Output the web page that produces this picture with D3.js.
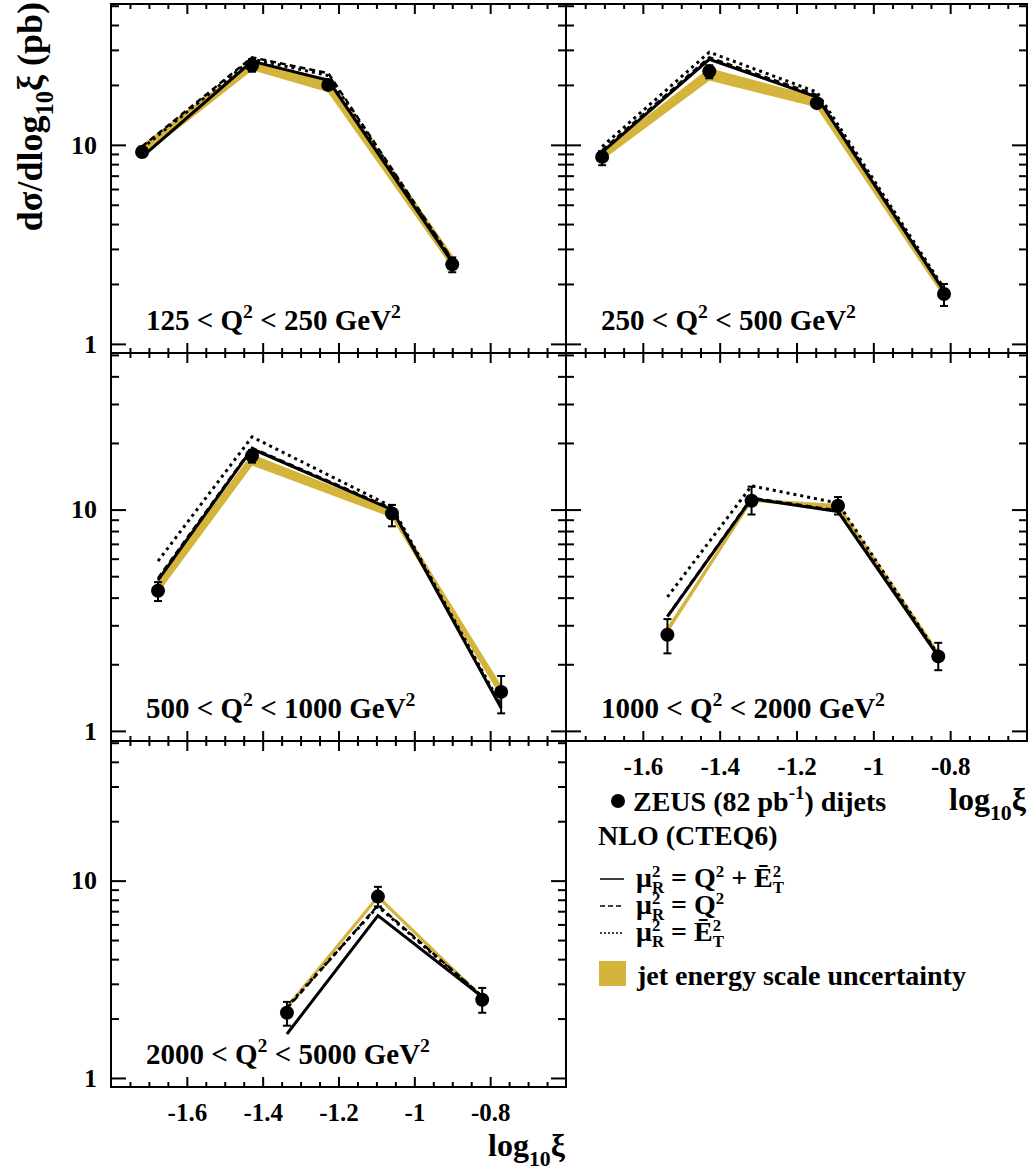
<!DOCTYPE html>
<html>
<head>
<meta charset="utf-8">
<script src="https://cdn.jsdelivr.net/npm/d3@7/dist/d3.min.js"></script>
<style>
  html, body { margin: 0; padding: 0; background: #fff; }
  svg text { font-family: 'Liberation Serif', 'Times New Roman', serif; font-weight: bold; fill: #000; }
</style>
</head>
<body>
<div id="chart"></div>
<script>
// Q2 bins, one panel each
const qLow = [125, 250, 500, 1000, 2000];
const qHigh = [250, 500, 1000, 2000, 5000];

// mean log10(xi) of each bin
const logXi = [
  [-1.718, -1.428, -1.227, -0.900],
  [-1.706, -1.427, -1.147, -0.816],
  [-1.676, -1.428, -1.059, -0.771],
  [-1.536, -1.317, -1.092, -0.831],
  [-1.336, -1.096, -0.821]
];

// ZEUS dijet cross sections (pb) with error-bar ends
const zeus = [
  [9.2, 25.1, 20.0, 2.51],
  [8.7, 23.4, 16.2, 1.78],
  [4.3, 17.5, 9.6, 1.50],
  [2.72, 10.97, 10.4, 2.17],
  [2.14, 8.3, 2.49]
];
const zeusHi = [
  [9.8, 27.0, 21.0, 2.72],
  [9.3, 25.1, 17.0, 2.00],
  [4.7, 18.6, 10.5, 1.77],
  [3.2, 12.7, 11.4, 2.5],
  [2.43, 9.3, 2.86]
];
const zeusLo = [
  [8.7, 23.3, 19.0, 2.29],
  [7.9, 21.6, 15.4, 1.55],
  [3.86, 16.3, 8.4, 1.2],
  [2.24, 9.5, 9.5, 1.88],
  [1.84, 7.4, 2.14]
];

// jet energy scale uncertainty band
const jesLo = [
  [8.8, 24.0, 18.6, 2.45],
  [8.5, 21.3, 15.6, 1.74],
  [4.25, 16.0, 9.3, 1.45],
  [2.8, 10.95, 10.2, 2.18],
  [2.25, 8.2, 2.52]
];
const jesHi = [
  [9.9, 25.8, 21.4, 2.75],
  [9.2, 24.0, 17.2, 1.88],
  [4.75, 17.6, 9.9, 1.58],
  [2.9, 11.1, 10.5, 2.26],
  [2.3, 8.35, 2.58]
];

// NLO (CTEQ6) predictions for three scale choices
const nloQ2Et2 = [
  [8.7, 26.3, 21.1, 2.57],
  [9.2, 26.9, 17.4, 1.84],
  [4.8, 18.8, 10.0, 1.27],
  [3.28, 11.2, 9.8, 2.17],
  [1.67, 6.65, 2.58]
];
const nloQ2 = [
  [9.8, 27.5, 22.9, 2.65],
  [9.4, 27.5, 17.8, 1.86],
  [4.9, 19.0, 10.1, 1.28],
  [3.3, 11.3, 9.9, 2.2],
  [2.25, 7.5, 2.6]
];
const nloEt2 = [
  [9.6, 27.0, 22.3, 2.62],
  [9.8, 29.2, 18.4, 1.9],
  [5.85, 21.3, 10.3, 1.3],
  [4.03, 12.8, 10.7, 2.2],
  [2.29, 7.4, 2.58]
];

const xMajor = [-1.6, -1.4, -1.2, -1.0, -0.8];
const yMajor = [1, 10];
const yMinor = [2, 3, 4, 5, 6, 7, 8, 9, 20, 30, 40, 50];

const GOLD = '#d4b43a';
const width = 1029;
const height = 1174;

const cols = [[111, 566], [566, 1027]];
const rows = [[4, 353], [353, 741], [741, 1087]];

const svg = d3.select('#chart').append('svg')
  .attr('width', width)
  .attr('height', height);

// text with super/subscripts; parts = [str, kind, stack]
const rich = (text, parts, size, opt = {}) => {
  const { scale = 0.68, up = 0.42, down = 0.3 } = opt;
  let shift = 0;
  let prev = null;
  parts.forEach(([str, kind, stack]) => {
    const target = kind === 'sup' ? -up * size : kind === 'sub' ? down * size : 0;
    const t = text.append('tspan').text(str).attr('dy', target - shift);
    shift = target;
    if (kind !== 'n') t.attr('font-size', size * scale);
    if (stack && prev) t.attr('dx', -prev.node().getComputedTextLength());
    prev = t;
  });
  return text;
};

const cleanAxis = g => {
  g.select('.domain').remove();
  g.selectAll('text').remove();
  g.selectAll('line').attr('stroke', '#000').attr('stroke-width', 2);
};

const xMinor = d3.range(-1.75, -0.6, 0.05).map(v => +v.toFixed(2))
  .filter(v => !xMajor.some(m => Math.abs(m - v) < 1e-6));

const drawPanel = i => {
  const col = i % 2;
  const row = Math.floor(i / 2);
  const [x0, x1] = cols[col];
  const [y0, y1] = rows[row];

  const x = d3.scaleLinear().domain([-1.8, -0.6]).range([x0, x1]);
  const y = d3.scaleLog().domain([0.9, 51]).range([y1, y0]);

  const g = svg.append('g').attr('class', 'panel');
  const idx = d3.range(logXi[i].length);

  // jet energy scale band
  g.append('path')
    .datum(idx)
    .attr('fill', GOLD)
    .attr('stroke', GOLD)
    .attr('stroke-width', 2)
    .attr('d', d3.area()
      .x(k => x(logXi[i][k]))
      .y0(k => y(jesLo[i][k]))
      .y1(k => y(jesHi[i][k])));

  const line = vals => d3.line()
    .x(k => x(logXi[i][k]))
    .y(k => y(vals[k]))(idx);

  g.append('path').attr('d', line(nloQ2[i]))
    .attr('fill', 'none').attr('stroke', '#000').attr('stroke-width', 2.5)
    .attr('stroke-dasharray', '6,4');
  g.append('path').attr('d', line(nloEt2[i]))
    .attr('fill', 'none').attr('stroke', '#000').attr('stroke-width', 3)
    .attr('stroke-dasharray', '3,4');
  g.append('path').attr('d', line(nloQ2Et2[i]))
    .attr('fill', 'none').attr('stroke', '#000').attr('stroke-width', 3);

  // data points with error bars
  const pts = g.selectAll('.pt').data(idx).enter().append('g').attr('class', 'pt');
  pts.append('line')
    .attr('x1', k => x(logXi[i][k])).attr('x2', k => x(logXi[i][k]))
    .attr('y1', k => y(zeusLo[i][k])).attr('y2', k => y(zeusHi[i][k]))
    .attr('stroke', '#000').attr('stroke-width', 2);
  [zeusLo[i], zeusHi[i]].forEach(ends => {
    pts.append('line')
      .attr('x1', k => x(logXi[i][k]) - 4).attr('x2', k => x(logXi[i][k]) + 4)
      .attr('y1', k => y(ends[k])).attr('y2', k => y(ends[k]))
      .attr('stroke', '#000').attr('stroke-width', 2);
  });
  pts.append('circle')
    .attr('cx', k => x(logXi[i][k]))
    .attr('cy', k => y(zeus[i][k]))
    .attr('r', 7)
    .attr('fill', '#000');

  // frame and inward ticks on all four sides
  g.append('rect')
    .attr('x', x0).attr('y', y0)
    .attr('width', x1 - x0).attr('height', y1 - y0)
    .attr('fill', 'none').attr('stroke', '#000').attr('stroke-width', 2);

  [[xMajor, 10], [xMinor, 5]].forEach(([vals, len]) => {
    g.append('g').attr('transform', `translate(0,${y1})`)
      .call(d3.axisBottom(x).tickValues(vals).tickSizeInner(-len).tickSizeOuter(0))
      .call(cleanAxis);
    g.append('g').attr('transform', `translate(0,${y0})`)
      .call(d3.axisTop(x).tickValues(vals).tickSizeInner(-len).tickSizeOuter(0))
      .call(cleanAxis);
  });
  [[yMajor, 15], [yMinor, 8]].forEach(([vals, len]) => {
    g.append('g').attr('transform', `translate(${x0},0)`)
      .call(d3.axisLeft(y).tickValues(vals).tickSizeInner(-len).tickSizeOuter(0))
      .call(cleanAxis);
    g.append('g').attr('transform', `translate(${x1},0)`)
      .call(d3.axisRight(y).tickValues(vals).tickSizeInner(-len).tickSizeOuter(0))
      .call(cleanAxis);
  });

  // tick labels
  if (col === 0) {
    g.append('g').attr('transform', `translate(${x0},0)`)
      .call(d3.axisLeft(y).tickValues(yMajor).tickSize(0).tickPadding(14).tickFormat(d3.format('d')))
      .call(a => a.select('.domain').remove())
      .selectAll('text').attr('font-size', 26).attr('font-family', null);
  }
  if (i === 3 || i === 4) {
    g.append('g').attr('transform', `translate(0,${y1})`)
      .call(d3.axisBottom(x).tickValues(xMajor).tickSize(0).tickPadding(16)
        .tickFormat(d => String(+d.toFixed(1))))
      .call(a => a.select('.domain').remove())
      .selectAll('text').attr('font-size', 25).attr('font-family', null);

    const title = g.append('text')
      .attr('x', x1 - 1)
      .attr('y', y1 + 69)
      .attr('text-anchor', 'end')
      .attr('font-size', 32);
    rich(title, [['log', 'n'], ['10', 'sub'], ['\u03be', 'n']], 32);
  }

  // Q2 range label
  const lab = g.append('text')
    .attr('x', x0 + 35)
    .attr('y', y1 - 23)
    .attr('font-size', 29);
  rich(lab, [
    [`${qLow[i]} < Q`, 'n'], ['2', 'sup'], [` < ${qHigh[i]} GeV`, 'n'], ['2', 'sup']
  ], 29);
};

d3.range(5).forEach(drawPanel);

// y-axis title
const yTitle = svg.append('text')
  .attr('transform', 'translate(42,2) rotate(-90)')
  .attr('text-anchor', 'end')
  .attr('font-size', 36);
rich(yTitle, [['d\u03c3/dlog', 'n'], ['10', 'sub'], ['\u03be', 'n'], [' (pb)', 'n']], 36);

// legend
const leg = svg.append('g').attr('class', 'legend');
const lsize = 28;
const stackOpt = { scale: 0.6, up: 0.34, down: 0.2 };

leg.append('circle').attr('cx', 618).attr('cy', 801).attr('r', 7).attr('fill', '#000');
rich(leg.append('text').attr('x', 633).attr('y', 811).attr('font-size', lsize),
  [['ZEUS (82 pb', 'n'], ['-1', 'sup'], [') dijets', 'n']], lsize);
leg.append('text').attr('x', 598).attr('y', 845).attr('font-size', lsize).text('NLO (CTEQ6)');

const legLines = [
  { y: 879, dash: null },
  { y: 906, dash: '5,3' },
  { y: 933, dash: '2,2' }
];
legLines.forEach(d => {
  leg.append('line')
    .attr('x1', 600).attr('x2', 624)
    .attr('y1', d.y).attr('y2', d.y)
    .attr('stroke', '#000').attr('stroke-width', 1.5)
    .attr('stroke-dasharray', d.dash);
});

const mu = [['\u03bc', 'n'], ['2', 'sup'], ['R', 'sub', true]];
rich(leg.append('text').attr('x', 636).attr('y', 887).attr('font-size', lsize),
  [...mu, [' =  Q', 'n'], ['2', 'sup'], [' + \u0112', 'n'], ['2', 'sup'], ['T', 'sub', true]], lsize, stackOpt);
rich(leg.append('text').attr('x', 636).attr('y', 914).attr('font-size', lsize),
  [...mu, [' = Q', 'n'], ['2', 'sup']], lsize, stackOpt);
rich(leg.append('text').attr('x', 636).attr('y', 941).attr('font-size', lsize),
  [...mu, [' = \u0112', 'n'], ['2', 'sup'], ['T', 'sub', true]], lsize, stackOpt);

leg.append('rect').attr('x', 599).attr('y', 961).attr('width', 27).attr('height', 25).attr('fill', GOLD);
leg.append('text').attr('x', 637).attr('y', 985).attr('font-size', lsize).text('jet energy scale uncertainty');
</script>
</body>
</html>
